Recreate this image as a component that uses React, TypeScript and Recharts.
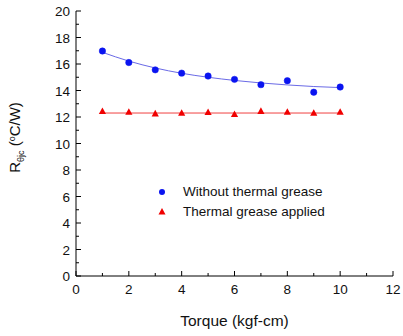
import { ComposedChart, Line, XAxis, YAxis, Label } from "recharts";

// Torque settings (kgf-cm)
const torque = [1, 2, 3, 4, 5, 6, 7, 8, 9, 10];
// measured R_theta_jc (°C/W)
const withoutGrease = [16.98, 16.11, 15.56, 15.31, 15.09, 14.84, 14.44, 14.74, 13.87, 14.26];
const withGrease = [12.42, 12.36, 12.24, 12.29, 12.34, 12.19, 12.43, 12.36, 12.29, 12.36];
// fitted trend lines
const fitWithout = [16.88, 16.22, 15.7, 15.3, 15.0, 14.76, 14.57, 14.42, 14.3, 14.22];
const fitWith = [12.3, 12.3, 12.3, 12.3, 12.3, 12.3, 12.3, 12.3, 12.3, 12.3];

const xTicks = [0, 1, 2, 3, 4, 5, 6, 7, 8, 9, 10, 11, 12];
const yTicks = Array.from({ length: 21 }, (_, i) => i);

const legendItems = ["Without thermal grease", "Thermal grease applied"];

const data = torque.map((t, i) => ({
  torque: t,
  without: withoutGrease[i],
  grease: withGrease[i],
  fitWithout: fitWithout[i],
  fitWith: fitWith[i],
}));

const FONT = "'Liberation Sans', Arial, sans-serif";
const BLUE = "#0a14f0";
const RED = "#f00000";
const GAP = 6;

const XTick = (props: any) => {
  const { x, y, payload } = props;
  const v = payload.value;
  const major = v % 2 === 0;
  const axisY = y - GAP;
  return (
    <g>
      <line x1={x} x2={x} y1={axisY} y2={axisY - (major ? 5 : 3)} stroke="#000" strokeWidth={1} />
      {major && (
        <text x={x} y={y + 12} textAnchor="middle" fontSize={13.5} fontFamily={FONT} fill="#111">
          {v}
        </text>
      )}
    </g>
  );
};

const YTick = (props: any) => {
  const { x, y, payload } = props;
  const v = payload.value;
  const major = v % 2 === 0;
  const axisX = x + GAP;
  return (
    <g>
      <line x1={axisX} x2={axisX + (major ? 5 : 3)} y1={y} y2={y} stroke="#000" strokeWidth={1} />
      {major && (
        <text x={x} y={y + 5} textAnchor="end" fontSize={13.5} fontFamily={FONT} fill="#111">
          {v}
        </text>
      )}
    </g>
  );
};

const Triangle = (props: any) => {
  const { cx, cy, index } = props;
  if (cx == null || cy == null) return <g key={index} />;
  return <path key={index} d={`M${cx},${cy - 4} L${cx + 3.6},${cy + 2.6} L${cx - 3.6},${cy + 2.6} Z`} fill={RED} />;
};

const YLabel = (props: any) => {
  const { viewBox } = props;
  const cx = 20;
  const cy = viewBox.y + viewBox.height / 2 - 6;
  return (
    <text transform={`translate(${cx},${cy}) rotate(-90)`} textAnchor="middle" fontFamily={FONT} fontSize={15} fill="#111">
      <tspan>R</tspan>
      <tspan fontSize={9} dy={4}>θjc</tspan>
      <tspan dy={-4}> (</tspan>
      <tspan fontSize={9} dy={-5}>o</tspan>
      <tspan dy={5}>C/W)</tspan>
    </text>
  );
};

const LegendBox = () => (
  <div
    style={{
      position: "absolute",
      left: 157,
      top: 182,
      fontFamily: FONT,
      fontSize: 13.5,
      color: "#111",
      lineHeight: "20px",
      whiteSpace: "nowrap",
    }}
  >
    <div style={{ display: "flex", alignItems: "center" }}>
      <svg width={26} height={20}>
        <circle cx={5} cy={10} r={3} fill={BLUE} />
      </svg>
      <span>{legendItems[0]}</span>
    </div>
    <div style={{ display: "flex", alignItems: "center" }}>
      <svg width={26} height={20}>
        <path d="M5,6 L8.5,12.5 L1.5,12.5 Z" fill={RED} />
      </svg>
      <span>{legendItems[1]}</span>
    </div>
  </div>
);

export default function App() {
  return (
    <div style={{ position: "absolute", left: 0, top: 0, width: 403, height: 336, background: "#fff" }}>
      <ComposedChart width={403} height={336} data={data} margin={{ top: 11, right: 10, left: 0, bottom: 0 }}>
        <XAxis
          dataKey="torque"
          type="number"
          domain={[0, 12]}
          ticks={xTicks}
          interval={0}
          tickSize={0}
          tickMargin={GAP}
          tickLine={false}
          tick={<XTick />}
          height={60}
          axisLine={{ stroke: "#000", strokeWidth: 1 }}
        >
          <Label
            value="Torque (kgf-cm)"
            position="insideBottom"
            offset={10}
            style={{ fontFamily: FONT, fontSize: 15.5, fill: "#111" }}
          />
        </XAxis>
        <YAxis
          type="number"
          domain={[0, 20]}
          ticks={yTicks}
          interval={0}
          tickSize={0}
          tickMargin={GAP}
          tickLine={false}
          tick={<YTick />}
          width={76}
          axisLine={{ stroke: "#000", strokeWidth: 1 }}
          label={<Label content={<YLabel />} />}
        />
        <Line dataKey="fitWithout" type="monotone" stroke="#6a6ae6" strokeWidth={1} dot={false} isAnimationActive={false} />
        <Line dataKey="fitWith" type="linear" stroke="#f04040" strokeWidth={1} dot={false} isAnimationActive={false} />
        <Line
          dataKey="without"
          stroke="none"
          dot={{ r: 3.2, fill: BLUE, stroke: BLUE, strokeWidth: 0.5 }}
          activeDot={false}
          isAnimationActive={false}
        />
        <Line dataKey="grease" stroke="none" dot={<Triangle />} activeDot={false} isAnimationActive={false} />
      </ComposedChart>
      <LegendBox />
    </div>
  );
}
